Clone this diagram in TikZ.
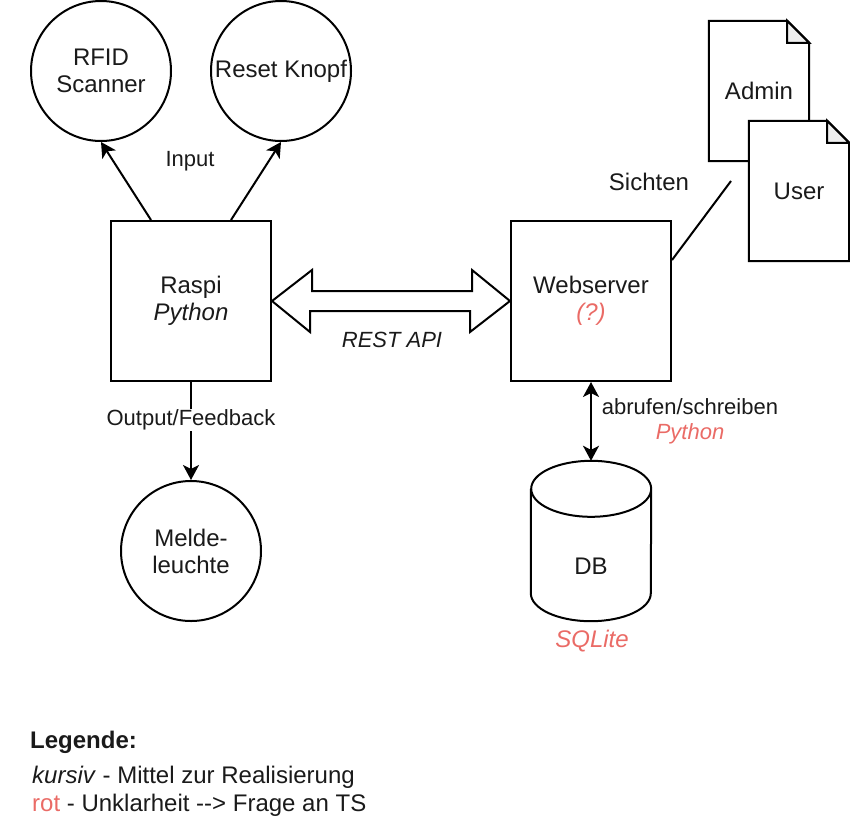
\documentclass[tikz,border=0pt]{standalone}
\usepackage{fontspec}
\setmainfont{Liberation Sans}
\usetikzlibrary{positioning, arrows.meta}
\definecolor{rotton}{HTML}{EA6B66}
\definecolor{faltung}{HTML}{EFEFEF}
\definecolor{schrift}{HTML}{1A1A1A}

\begin{document}
\begin{tikzpicture}[
  x=1pt, y=-1pt,
  every node/.style={
    font=\fontsize{24}{27}\selectfont,
    text=schrift,
    align=center,
    inner sep=1pt
  },
  circ/.style={draw, circle, line width=2pt, minimum size=140pt, inner sep=0pt},
  box/.style={draw, rectangle, line width=2pt, minimum size=160pt, inner sep=0pt},
  doc/.style={rectangle, minimum width=100pt, minimum height=140pt, inner sep=0pt},
  lbl/.style={font=\fontsize{22}{26}\selectfont},
  linie/.style={line width=2pt},
  pfeil/.style={line width=2pt, -{Stealth[length=15pt, width=16pt, inset=4pt]}},
  doppelpfeil/.style={line width=2pt, {Stealth[length=15pt, width=16pt, inset=4pt]}-{Stealth[length=15pt, width=16pt, inset=4pt]}},
]
\useasboundingbox (0,0) rectangle (850,822);

\node[circ] (rfid) at (101,71) {RFID\\Scanner};
\node[circ] (reset) at (281,71) {Reset Knopf};
\node[box] (raspi) at (191,301) {Raspi\\\itshape Python};
\node[box] (web) at (591,301) {Webserver\\\color{rotton}\itshape (?)};
\node[circ] (melde) at (191,551) {Melde-\\leuchte};

\node[lbl] (input) at (190,161) {Input};
\draw[pfeil] ([xshift=-40pt]raspi.north) -- (rfid.south);
\draw[pfeil] ([xshift=40pt]raspi.north) -- (reset.south);

\draw[linie, line join=miter, fill=white] (raspi.east) -- ++(40,-31) -- ++(0,21) -- ++(160,0) -- ++(0,-21)
  -- (web.west) -- ++(-40,31) -- ++(0,-21) -- ++(-160,0) -- ++(0,21) -- cycle;
\node[lbl, font=\fontsize{22}{26}\selectfont\itshape] (rest) at (392,340) {REST API};

\draw[pfeil] (raspi.south) -- node[lbl, fill=white, pos=0.39] (feedback) {Output/Feedback} (melde.north);

% Admin / User
\node[doc] (admin) at (759,91) {};
\draw[linie, fill=white] (admin.south west) -- (admin.north west) -- ([xshift=-22pt]admin.north east)
  -- ([yshift=-22pt]admin.north east) -- (admin.south east) -- cycle;
\draw[linie, fill=faltung, line join=miter] ([xshift=-22pt]admin.north east) -- ([xshift=-22pt,yshift=-22pt]admin.north east)
  -- ([yshift=-22pt]admin.north east) -- cycle;
\node at (admin.center) {Admin};

\node[doc] (user) at (799,191) {};
\draw[linie, fill=white] (user.south west) -- (user.north west) -- ([xshift=-22pt]user.north east)
  -- ([yshift=-22pt]user.north east) -- (user.south east) -- cycle;
\draw[linie, fill=faltung, line join=miter] ([xshift=-22pt]user.north east) -- ([xshift=-22pt,yshift=-22pt]user.north east)
  -- ([yshift=-22pt]user.north east) -- cycle;
\node at (user.center) {User};

\coordinate (sicht) at (731,181);
\draw[linie] ([yshift=-40pt]web.north east) -- (sicht);
\node (sichten) at (649,182) {Sichten};

% DB
\node[rectangle, minimum width=120pt, minimum height=160pt, inner sep=0pt] (db) at (591,541) {};
\draw[linie, fill=white] ([yshift=-28pt]db.north west) -- ([yshift=28pt]db.south west)
  arc[start angle=180, end angle=360, x radius=60pt, y radius=28pt]
  -- ([yshift=-28pt]db.north east)
  arc[start angle=0, end angle=180, x radius=60pt, y radius=28pt]
  arc[start angle=180, end angle=360, x radius=60pt, y radius=28pt];
\node (dbtext) at ([yshift=-25pt]db.center) {DB};
\node[text=rotton, font=\fontsize{24}{27}\selectfont\itshape] (sqlite) at (592,641) {SQLite};

\draw[doppelpfeil] (web.south) -- (db.north);
\node[lbl] (abrufen) at (690,421) {abrufen/schreiben\\[-1pt]{\color{rotton}\itshape Python}};

% Legende
\node[anchor=west, font=\fontsize{24}{27}\selectfont\bfseries] (legende) at (29,742) {Legende:};
\node[anchor=west] (kursiv) at (31,777) {\textit{kursiv} - Mittel zur Realisierung};
\node[anchor=west] (rot) at (31,805) {\textcolor{rotton}{rot} - Unklarheit {-}{-}> Frage an TS};

\end{tikzpicture}
\end{document}
